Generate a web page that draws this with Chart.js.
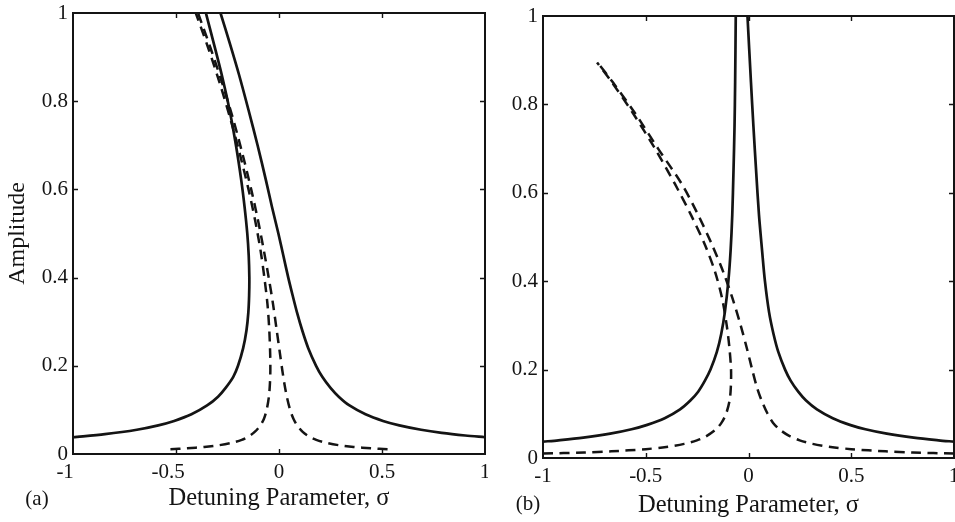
<!DOCTYPE html>
<html>
<head>
<meta charset="utf-8">
<script src="https://cdn.jsdelivr.net/npm/chart.js@4/dist/chart.umd.min.js"></script>
<style>
  html, body { margin: 0; padding: 0; background: #fff; }
  #wrap { position: relative; width: 955px; height: 522px; overflow: hidden; }
  canvas { position: absolute; top: 0; }
  #panelA { left: 0; }
  #panelB { left: 488px; }
</style>
</head>
<body>
<div id="wrap">
  <canvas id="panelA" width="488" height="522"></canvas>
  <canvas id="panelB" width="467" height="522"></canvas>
</div>
<script>
// Axis ticks shared by both panels
const xTickValues = [-1, -0.5, 0, 0.5, 1];
const xTickLabels = ['-1', '-0.5', '0', '0.5', '1'];
const yTickValues = [0, 0.2, 0.4, 0.6, 0.8, 1];
const yTickLabels = ['0', '0.2', '0.4', '0.6', '0.8', '1'];

// Panel (a): solid branches
const sigmaA_solidLeft = [-1.0, -0.845, -0.69, -0.586, -0.509, -0.425, -0.349, -0.296, -0.259, -0.222, -0.199, -0.174, -0.158, -0.149, -0.145, -0.144, -0.147, -0.154, -0.167, -0.183, -0.209, -0.24, -0.278, -0.316, -0.355];
const ampA_solidLeft   = [0.038, 0.045, 0.055, 0.065, 0.075, 0.09, 0.11, 0.13, 0.15, 0.175, 0.2, 0.24, 0.28, 0.32, 0.36, 0.40, 0.45, 0.50, 0.56, 0.62, 0.70, 0.78, 0.86, 0.93, 1.0];
const sigmaA_solidRight = [1.0, 0.904, 0.79, 0.69, 0.584, 0.505, 0.42, 0.342, 0.29, 0.25, 0.21, 0.18, 0.142, 0.113, 0.088, 0.066, 0.045, 0.021, -0.003, -0.034, -0.063, -0.104, -0.148, -0.194, -0.238, -0.284];
const ampA_solidRight   = [0.038, 0.042, 0.048, 0.055, 0.065, 0.075, 0.09, 0.11, 0.13, 0.15, 0.175, 0.2, 0.24, 0.28, 0.32, 0.36, 0.40, 0.45, 0.50, 0.56, 0.62, 0.70, 0.78, 0.86, 0.93, 1.0];

// Panel (a): dashed branches
const sigmaA_dashLeft = [-0.527, -0.446, -0.363, -0.29, -0.232, -0.181, -0.146, -0.118, -0.09, -0.073, -0.06, -0.049, -0.044, -0.042, -0.043, -0.047, -0.056, -0.071, -0.089, -0.116, -0.148, -0.19, -0.236, -0.287, -0.343, -0.404];
const ampA_dashLeft   = [0.011, 0.013, 0.016, 0.02, 0.025, 0.032, 0.04, 0.05, 0.065, 0.08, 0.1, 0.13, 0.16, 0.19, 0.23, 0.28, 0.34, 0.40, 0.46, 0.53, 0.60, 0.68, 0.76, 0.84, 0.92, 1.0];
const sigmaA_dashRight = [0.527, 0.446, 0.362, 0.29, 0.232, 0.181, 0.144, 0.115, 0.088, 0.07, 0.054, 0.038, 0.026, 0.016, 0.004, -0.011, -0.029, -0.05, -0.073, -0.102, -0.135, -0.177, -0.223, -0.275, -0.332, -0.393];
const ampA_dashRight   = [0.011, 0.013, 0.016, 0.02, 0.025, 0.032, 0.04, 0.05, 0.065, 0.08, 0.1, 0.13, 0.16, 0.19, 0.23, 0.28, 0.34, 0.40, 0.46, 0.53, 0.60, 0.68, 0.76, 0.84, 0.92, 1.0];

// Panel (b): solid branches
const sigmaB_solidLeft = [-1.0, -0.925, -0.804, -0.673, -0.569, -0.493, -0.408, -0.333, -0.283, -0.245, -0.212, -0.185, -0.154, -0.133, -0.115, -0.098, -0.087, -0.079, -0.073, -0.068, -0.065, -0.062];
const ampB_solidLeft   = [0.037, 0.04, 0.046, 0.055, 0.065, 0.075, 0.09, 0.11, 0.13, 0.15, 0.175, 0.2, 0.24, 0.28, 0.33, 0.4, 0.47, 0.55, 0.65, 0.75, 0.85, 1.0];
const sigmaB_solidRight = [1.0, 0.925, 0.804, 0.673, 0.569, 0.493, 0.41, 0.333, 0.28, 0.242, 0.205, 0.178, 0.145, 0.122, 0.1, 0.08, 0.066, 0.051, 0.037, 0.024, 0.012, -0.005];
const ampB_solidRight   = [0.037, 0.04, 0.046, 0.055, 0.065, 0.075, 0.09, 0.11, 0.13, 0.15, 0.175, 0.2, 0.24, 0.28, 0.33, 0.4, 0.47, 0.55, 0.65, 0.75, 0.85, 1.0];

// Panel (b): dashed branches
const sigmaB_dashLeft = [-1.0, -0.8, -0.667, -0.5, -0.4, -0.313, -0.251, -0.21, -0.158, -0.131, -0.109, -0.092, -0.086, -0.085, -0.093, -0.106, -0.128, -0.162, -0.21, -0.28, -0.358, -0.455, -0.562, -0.665, -0.737];
const ampB_dashLeft   = [0.010, 0.0125, 0.015, 0.02, 0.025, 0.032, 0.04, 0.048, 0.065, 0.08, 0.1, 0.13, 0.16, 0.2, 0.25, 0.3, 0.36, 0.42, 0.48, 0.55, 0.62, 0.70, 0.78, 0.85, 0.895];
const sigmaB_dashRight = [1.0, 0.8, 0.667, 0.5, 0.4, 0.312, 0.249, 0.198, 0.15, 0.119, 0.093, 0.064, 0.041, 0.018, -0.009, -0.038, -0.077, -0.122, -0.175, -0.245, -0.325, -0.44, -0.552, -0.66, -0.735];
const ampB_dashRight   = [0.010, 0.0125, 0.015, 0.02, 0.025, 0.032, 0.04, 0.05, 0.065, 0.08, 0.1, 0.13, 0.16, 0.2, 0.25, 0.3, 0.36, 0.42, 0.48, 0.55, 0.62, 0.70, 0.78, 0.85, 0.895];

const INK = '#141414';
const SERIF = '"Liberation Serif", "Times New Roman", serif';

Chart.defaults.font.family = SERIF;
Chart.defaults.color = INK;

function toPoints(xs, ys) {
  return xs.map((x, i) => ({ x: x, y: ys[i] }));
}

function curve(xs, ys, dashed) {
  return {
    data: toPoints(xs, ys),
    showLine: true,
    borderColor: INK,
    borderWidth: dashed ? 2.5 : 2.7,
    borderDash: dashed ? [10, 6.5] : [],
    pointRadius: 0,
    tension: 0.3,
    fill: false,
    clip: 0
  };
}

// Boxed frame with inward tick marks on all four sides, plus the panel tag
const frameTicks = {
  id: 'frameTicks',
  afterDatasetsDraw(chart, args, opts) {
    const { ctx, chartArea: a, scales: { x, y } } = chart;
    ctx.save();
    ctx.strokeStyle = INK;
    ctx.lineWidth = 2;
    ctx.strokeRect(a.left, a.top, a.right - a.left, a.bottom - a.top);
    ctx.lineWidth = 1.4;
    ctx.beginPath();
    const len = 5;
    xTickValues.forEach(v => {
      if (v <= x.min || v >= x.max) return;
      const px = Math.round(x.getPixelForValue(v)) + 0.5;
      ctx.moveTo(px, a.bottom); ctx.lineTo(px, a.bottom - len);
      ctx.moveTo(px, a.top); ctx.lineTo(px, a.top + len);
    });
    yTickValues.forEach(v => {
      if (v <= y.min || v >= y.max) return;
      const py = Math.round(y.getPixelForValue(v)) + 0.5;
      ctx.moveTo(a.left, py); ctx.lineTo(a.left + len, py);
      ctx.moveTo(a.right, py); ctx.lineTo(a.right - len, py);
    });
    ctx.stroke();
    ctx.fillStyle = INK;
    ctx.font = '21px ' + SERIF;
    ctx.textAlign = 'center';
    ctx.textBaseline = 'middle';
    ctx.fillText(opts.tag, opts.tagX, opts.tagY);
    ctx.restore();
  }
};

// Fixed axis box sizes so the plotting area lands where intended
function fixBox(s, size) {
  if (s.isHorizontal()) s.height = size; else s.width = size;
  s.paddingTop = 0; s.paddingBottom = 0; s.paddingLeft = 0; s.paddingRight = 0;
}

function makePanel(id, datasets, p) {
  return new Chart(document.getElementById(id), {
    type: 'scatter',
    data: { datasets: datasets },
    plugins: [frameTicks],
    options: {
      responsive: false,
      animation: false,
      devicePixelRatio: 1,
      events: [],
      layout: { padding: { top: p.top, right: p.right, bottom: 0, left: 0 }, autoPadding: false },
      plugins: {
        legend: { display: false },
        tooltip: { enabled: false },
        frameTicks: { tag: p.tag, tagX: p.tagX, tagY: p.tagY }
      },
      scales: {
        x: {
          type: 'linear', min: -1, max: 1,
          afterBuildTicks: s => { s.ticks = xTickValues.map(v => ({ value: v })); },
          afterFit: s => fixBox(s, p.xHeight),
          ticks: {
            autoSkip: false, maxRotation: 0, padding: p.xTickPad,
            font: { size: 21 }, color: INK,
            callback: (v, i) => {
              const t = xTickLabels[i];
              return (p.shiftNegatives && t.startsWith('-')) ? t + '\u2002 ' : t;
            }
          },
          grid: { display: false, drawTicks: false },
          border: { display: false },
          title: {
            display: true, text: 'Detuning Parameter, σ', color: INK,
            font: { size: 24.5 }, padding: { top: 0, bottom: p.xTitlePad }
          }
        },
        y: {
          type: 'linear', min: 0, max: 1,
          afterBuildTicks: s => { s.ticks = yTickValues.map(v => ({ value: v })); },
          afterFit: s => fixBox(s, p.yWidth),
          ticks: {
            autoSkip: false, padding: 5, font: { size: 21 }, color: INK,
            callback: (v, i) => yTickLabels[i]
          },
          grid: { display: false, drawTicks: false },
          border: { display: false },
          title: {
            display: p.yTitle, text: 'Amplitude', color: INK,
            font: { size: 24 }, padding: { top: 3, bottom: 0 }
          }
        }
      }
    }
  });
}

makePanel('panelA', [
  curve(sigmaA_solidLeft, ampA_solidLeft, false),
  curve(sigmaA_solidRight, ampA_solidRight, false),
  curve(sigmaA_dashLeft, ampA_dashLeft, true),
  curve(sigmaA_dashRight, ampA_dashRight, true)
], { top: 13, right: 3, xHeight: 68, yWidth: 73, yTitle: true, xTickPad: 6, xTitlePad: 9,
     shiftNegatives: true, tag: '(a)', tagX: 37, tagY: 499 });

makePanel('panelB', [
  curve(sigmaB_solidLeft, ampB_solidLeft, false),
  curve(sigmaB_solidRight, ampB_solidRight, false),
  curve(sigmaB_dashLeft, ampB_dashLeft, true),
  curve(sigmaB_dashRight, ampB_dashRight, true)
], { top: 16, right: 1, xHeight: 64, yWidth: 55, yTitle: false, xTickPad: 6, xTitlePad: 2,
     shiftNegatives: false, tag: '(b)', tagX: 40, tagY: 504 });
</script>
</body>
</html>
